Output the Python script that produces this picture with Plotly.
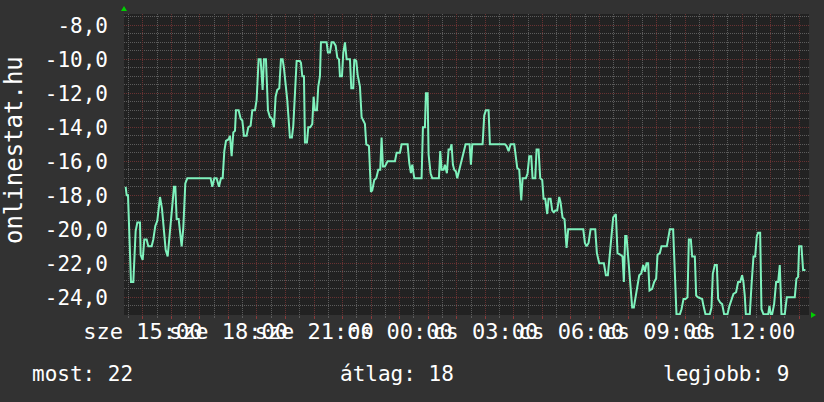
import pandas as pd
import plotly.graph_objects as go

# ---------------- data ----------------
start_time = "2012-02-15 14:20:30"          # a Wednesday ("sze")
span_hours = 24

# minutes after start_time
minutes = [
    3.5, 5.6, 8.4, 11.2, 14.7, 19.6, 21.0, 24.5, 28.0, 33.6, 35.0, 39.2, 42.7, 47.6, 51.1, 58.1,
    61.6, 65.8, 70.0, 75.7, 79.9, 84.1, 87.6, 91.8, 95.3, 100.2, 105.1, 107.9, 110.7, 114.9, 117.7,
    121.2, 124.7, 128.9, 133.1, 182.1, 185.6, 189.8, 194.7, 199.6, 203.8, 207.4, 210.9, 214.4, 220.0,
    222.8, 226.3, 229.8, 233.3, 235.4, 241.0, 245.2, 248.7, 252.2, 257.8, 261.3, 266.2, 269.7, 275.3,
    278.8, 283.0, 287.2, 291.4, 294.2, 298.4, 302.6, 306.8, 311.0, 315.2, 318.7, 322.2, 326.4, 329.9,
    333.4, 336.2, 339.7, 343.2, 348.8, 353.0, 355.9, 359.4, 362.9, 369.9,
    372.0, 374.8, 378.3, 380.4, 384.6, 387.4, 391.6, 395.8, 398.6, 401.4, 405.6, 408.4, 411.9, 414.0,
    425.9, 428.7, 432.9, 436.5, 440.7, 444.9, 448.4, 451.9, 454.0, 458.2, 461.0, 464.5, 468.0, 475.0,
    477.8, 482.0, 484.1, 488.3, 491.1, 496.0, 499.5, 503.0, 506.5, 509.3, 514.9, 519.1, 521.9, 526.1,
    530.3, 534.5, 538.7, 541.5, 544.3, 548.5, 554.1, 569.6, 573.1, 580.1, 583.6, 596.2, 599.7, 603.2,
    606.0, 610.2, 625.6, 628.4, 632.6, 634.7, 638.2, 640.3, 644.5, 648.0, 662.0, 664.8, 667.6, 671.8,
    674.6, 678.8, 682.3, 685.8, 688.6, 691.4, 694.2, 697.7, 700.5, 704.0, 708.2, 713.2, 718.1, 726.5,
    729.3, 732.1,
    753.8, 757.3, 760.8, 766.4, 769.2, 800.8, 804.3, 808.5, 812.7, 820.4, 823.2, 826.7, 830.9, 835.1,
    837.9, 844.9, 848.4, 851.9, 856.1, 858.9, 864.5, 867.3, 871.5, 875.0, 879.2, 882.0, 885.5, 889.7,
    892.5, 896.7, 900.2, 903.7, 906.5, 910.7, 914.9, 917.7, 921.9, 926.1, 930.3, 933.8, 965.4, 968.9,
    972.4, 976.6, 980.8, 990.6, 994.1, 999.0, 1008.8, 1013.0, 1017.2, 1021.4, 1025.6, 1028.4, 1034.0,
    1037.5, 1043.8, 1048.0, 1050.8, 1053.6, 1056.4, 1060.6, 1064.9, 1068.3, 1071.8, 1075.4, 1078.9,
    1083.1, 1087.3, 1091.5,
    1094.9, 1098.4, 1101.9, 1104.7, 1110.3, 1114.5, 1118.7, 1121.5, 1126.4, 1129.9, 1141.1, 1143.9,
    1147.4, 1154.4, 1157.9, 1161.4, 1168.5, 1172.0, 1176.2, 1180.4, 1184.6, 1187.4, 1191.6, 1194.4,
    1200.0, 1202.8, 1207.0, 1215.4, 1218.2, 1222.4, 1231.5, 1235.0, 1237.8, 1242.0, 1246.2, 1249.0,
    1253.2, 1257.4, 1261.6, 1268.6, 1272.8, 1277.0, 1281.2, 1286.8, 1291.0, 1295.2, 1299.4, 1302.2,
    1305.0, 1307.2, 1315.6, 1319.1, 1323.3, 1326.8, 1330.3, 1333.1, 1337.3, 1340.1, 1344.3, 1354.1,
    1356.9, 1359.7, 1362.5, 1366.7, 1370.9, 1375.1, 1378.6, 1382.1, 1389.1, 1393.3, 1410.1, 1413.6,
    1417.1, 1419.2, 1424.1, 1427.6, 1432.5,
]

values = [
    -17.5, -18, -18, -19.9, -23.1, -23.1, -22.3, -20.1, -19.6, -19.6, -21.5, -21.8, -20.6, -20.6, -21, -21,
    -20.6, -19.8, -19.5, -18.1, -18.8, -20, -21.2, -21.6, -20.4, -19, -17.5, -17.5, -19.4, -19.4, -20.1,
    -21, -19.9, -17.3, -17, -17, -17.5, -17, -17, -17.5, -17, -17, -15.4, -14.8, -14.7,
    -14.5, -15.7, -14.3, -14.2, -13, -13, -13.5, -13.6, -14.5, -14.5, -14, -13.9, -13, -13,
    -12.4, -10, -10, -11.8, -10, -10, -13, -13.4, -13.5, -14, -12.2, -11.8, -11.7, -10,
    -10, -10.5, -11.3, -12.4, -14.6, -14.6, -13.9, -11.5, -10.1, -10.1,
    -10.2, -11, -11, -14.9, -14.9, -14, -14, -13.8, -12.2, -13, -13, -11.6, -11, -9,
    -9, -9.6, -9.6, -9, -9, -9.2, -9.9, -10, -11, -11, -9.6, -9, -10, -10,
    -11.7, -11.7, -10, -10.1, -10.9, -11.6, -13.4, -13.6, -13.8, -15, -15.1, -17.8, -17.7, -17.1,
    -17, -16.5, -16.5, -14.6, -16.3, -16.3, -16, -16, -15.5, -15.5, -15, -15, -16.1, -16.7,
    -16.2, -17, -17, -14, -14, -12, -12, -15.6, -16.7, -17, -17, -15.4, -16.5, -16.5,
    -16.2, -16.7, -15.3, -15.3, -15, -16.2, -16.5, -16.6, -17, -16.6, -16.1, -15.5, -15, -15,
    -16.2, -15,
    -15, -13.3, -13, -13, -15, -15, -15.1, -15.4, -15, -15, -15.6, -16.4, -16.5, -18.3,
    -17, -17, -16.7, -15.7, -15.7, -17, -17, -15.3, -15.3, -17, -17.1, -18.2, -18.2, -19.1,
    -18.2, -18.2, -18.9, -19, -18.9, -18.9, -18.1, -18.4, -19.3, -19.4, -21.1, -20, -20, -20.8,
    -21, -20.8, -20, -20, -21.4, -22, -22, -22.7, -22.7, -21.5, -20, -19.3, -19.1,
    -21.4, -21.5, -21.6, -23.1, -20.4, -20.4, -22, -23.1, -24.6, -24.6, -24, -23.4,
    -22.7, -22.6, -22.1,
    -22.5, -22, -22, -23.6, -23.5, -23.1, -22.9, -21.5, -21.4, -21, -21, -20.6,
    -20, -20, -23.2, -25, -25, -24.7, -24.1, -24.1, -24, -20.6, -20.6, -21.6,
    -21.6, -23.9, -24, -24.1, -24.5, -25, -25, -24.6, -22.6, -22.1, -22.1, -24.1,
    -24.3, -24.4, -25, -25, -24.5, -24.1, -23.8, -23.7, -23.1, -23.1, -22.7, -23.1,
    -23.9, -25, -25, -23.3, -21.6, -21.6, -20.4, -20.2, -20.2, -24.7, -25, -25,
    -24.5, -25, -25, -24.4, -23.1, -23.1, -22.1, -25, -25, -24, -24, -22.9,
    -22.8, -21, -21, -22.4, -22.4,
]
assert len(minutes) == len(values)

y_ticks = [-8, -10, -12, -14, -16, -18, -20, -22, -24]
y_ticktext = [f"{v},0" for v in y_ticks]
day_abbr = {15: "sze", 16: "cs"}
title_text = "onlinestat.hu"
legend_left = "most: 22"
legend_mid = "átlag: 18"
legend_right = "legjobb: 9"

# ---------------- figure ----------------
t0 = pd.Timestamp(start_time)
t_end = t0 + pd.Timedelta(hours=span_hours)
times = [t0 + pd.Timedelta(minutes=m) for m in minutes]

hour_ticks = pd.date_range(t0.ceil("h"), t_end, freq="h")
x_ticktext = [f"{day_abbr[t.day]} {t:%H:%M}" if t.hour % 3 == 0 else "" for t in hour_ticks]

FONT = "DejaVu Sans Mono"
MAJOR = "#683232"
MINOR = "#5c5c5c"

fig = go.Figure(
    go.Scatter(x=times, y=values, mode="lines",
               line=dict(color="#7ff2bd", width=2), hoverinfo="skip")
)

fig.update_layout(
    width=824, height=402,
    margin=dict(l=124, r=15, t=14, b=87),
    paper_bgcolor="#323232", plot_bgcolor="#222222",
    showlegend=False,
    font=dict(family=FONT, color="#ffffff"),
)

fig.update_xaxes(
    type="date", range=[t0, t_end],
    tickmode="array", tickvals=list(hour_ticks), ticktext=x_ticktext, tickangle=0,
    tickfont=dict(size=22, family=FONT, color="#ffffff"),
    showgrid=True, gridcolor=MAJOR, gridwidth=1, griddash="1px,1px",
    ticks="outside", ticklen=3, tickcolor="#8a3a3a", tickwidth=1,
    ticklabelstandoff=-6,
    minor=dict(tickmode="linear", tick0="2012-02-15 00:00", dtick=1800000,
               showgrid=True, gridcolor=MINOR, griddash="1px,1px",
               ticks="outside", ticklen=2, tickcolor=MINOR),
    zeroline=False, showline=False, fixedrange=True,
)

fig.update_yaxes(
    range=[-25.04, -7.335],
    tickmode="array", tickvals=y_ticks, ticktext=y_ticktext,
    tickfont=dict(size=21, family=FONT, color="#ffffff"),
    showgrid=True, gridcolor=MAJOR, gridwidth=1, griddash="1px,1px",
    minor=dict(tickmode="linear", tick0=0, dtick=0.5,
               showgrid=True, gridcolor=MINOR, griddash="1px,1px"),
    ticks="", ticklabelstandoff=15,
    zeroline=False, showline=False, fixedrange=True,
)

# rotated vertical label and bottom legend texts
fig.add_annotation(text=title_text, xref="paper", yref="paper", x=-0.1606, y=0.548,
                   xanchor="center", yanchor="middle",
                   textangle=-90, showarrow=False, font=dict(size=24, family=FONT, color="#ffffff"))
for txt, xp, anchor in [(legend_left, -0.1372, "left"), (legend_mid, 0.3124, "left"),
                        (legend_right, 0.9738, "right")]:
    fig.add_annotation(text=txt, xref="paper", yref="paper", x=xp, y=-0.196,
                       xanchor=anchor, yanchor="middle", showarrow=False,
                       font=dict(size=21, family=FONT, color="#ffffff"))

# small green axis arrows (decoration)
ARROW = "#00d000"
fig.add_shape(type="path", xref="paper", yref="paper",
              path="M -0.0044 1.0100 L 0.0044 1.0100 L 0 1.0266 Z",
              fillcolor=ARROW, line=dict(color=ARROW, width=0))
fig.add_shape(type="path", xref="paper", yref="paper",
              path="M 1.0029 0.0100 L 1.0029 -0.0100 L 1.0102 0 Z",
              fillcolor=ARROW, line=dict(color=ARROW, width=0))

fig.write_html("out.html",
               config={"displayModeBar": False, "staticPlot": True},
               post_script="document.body.style.margin='0px';"
                           "document.documentElement.style.overflow='hidden';")
